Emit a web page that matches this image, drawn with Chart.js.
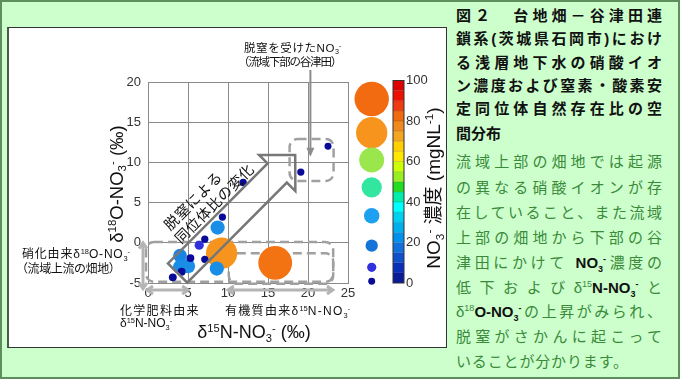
<!DOCTYPE html>
<html>
<head>
<meta charset="utf-8">
<script src="https://cdn.jsdelivr.net/npm/chart.js@4.4.1/dist/chart.umd.min.js"></script>
<style>
  html, body { margin: 0; padding: 0; }
  #frame { position: absolute; left: 0; top: 0; width: 680px; height: 379px; box-sizing: border-box;
    background: #ccffcc; border: 2px solid #5e8e5e; }
  #box { position: absolute; left: 7px; top: 27px; width: 440px; height: 321px; box-sizing: border-box;
    background: #fff; border: 1px solid #333; border-left: 2px solid #4b5b4b; }
  #plot { position: absolute; left: 8px; top: 28px; }
  .ln { position: absolute; left: 456px; width: 206px; height: 22px; line-height: 22px; font-size: 15px;
    font-family: "Liberation Sans", "Noto Sans CJK JP", sans-serif; text-align: justify; text-align-last: justify; }
  .tt { font-weight: bold; color: #111; }
  .bd { color: #3a8a3a; }
  .bd b { color: #111; }
  sup, sub { font-size: 9px; line-height: 0; }
</style>
</head>
<body>
<div id="frame"></div>
<div id="box"></div>
<canvas id="plot" width="438" height="319"></canvas>

<div class="ln tt" style="top:5px">図２　台地畑－谷津田連</div>
<div class="ln tt" style="top:28px">鎖系(茨城県石岡市)におけ</div>
<div class="ln tt" style="top:52px">る浅層地下水の硝酸イオ</div>
<div class="ln tt" style="top:75px">ン濃度および窒素・酸素安</div>
<div class="ln tt" style="top:98px">定同位体自然存在比の空</div>
<div class="ln tt" style="top:123px;text-align-last:left">間分布</div>
<div class="ln bd" style="top:151px">流域上部の畑地では起源</div>
<div class="ln bd" style="top:177px">の異なる硝酸イオンが存</div>
<div class="ln bd" style="top:202px">在していること、また流域</div>
<div class="ln bd" style="top:227px">上部の畑地から下部の谷</div>
<div class="ln bd" style="top:252px">津田にかけて <b>NO<sub>3</sub><sup>-</sup></b>濃度の</div>
<div class="ln bd" style="top:277px">低下およびδ<sup>15</sup><b>N-NO<sub>3</sub><sup>-</sup></b>と</div>
<div class="ln bd" style="top:301px">δ<sup>18</sup><b>O-NO<sub>3</sub><sup>-</sup></b>の上昇がみられ、</div>
<div class="ln bd" style="top:326px">脱窒がさかんに起こって</div>
<div class="ln bd" style="top:351px;width:172px">いることが分かります。</div>

<script>
// values
const nitrogen15 = [15.9, 9.2, 8.7, 8.6, 4.0, 4.0, 5.0, 6.4, 5.3, 4.2, 3.1, 7.1, 7.1, 9.3, 11.9, 19.1, 22.5];
const oxygen18 = [-2.5, -1.3, 1.9, -3.2, -1.6, -3.0, -2.9, -0.3, -1.9, -3.6, -4.3, 0.45, -2.05, 3.2, 7.5, 8.8, 12.0];
const nitrate = [88, 80, 26, 26, 24, 26, 26, 10, 6, 6, 6, 4, 4, 4, 4, 4, 3];

const legendNitrate = [90, 80, 60, 45, 30, 20, 10, 3];
const colorbarTicks = [0, 20, 40, 60, 80, 100];
// colour bar bands, 0-5 first
const colorbarBands = ["#0a1a99", "#0a30bb", "#1050cc", "#1070dd", "#0090ee", "#00b0ee", "#00d0f0", "#00ffff",
  "#00eeaa", "#22dd22", "#99ee22", "#ccff00", "#ffe800", "#ffd000", "#f5a620", "#f08a20", "#f06a10", "#f03a10",
  "#ee1100", "#dd0000"];

const colorStops = [[0, "#0a0a99"], [6, "#0a0a99"], [10, "#3030dd"], [20, "#1473d9"], [30, "#1ea0f0"],
  [45, "#33e6a0"], [60, "#99e64d"], [80, "#f7941d"], [90, "#f26b10"], [100, "#e03000"]];

function hexToRgb(h) {
  return [1, 3, 5].map((i) => parseInt(h.slice(i, i + 2), 16));
}
function nitrateColor(c) {
  for (let i = 1; i < colorStops.length; i++) {
    const [c0, h0] = colorStops[i - 1];
    const [c1, h1] = colorStops[i];
    if (c <= c1) {
      const t = (c - c0) / (c1 - c0);
      const a = hexToRgb(h0), b = hexToRgb(h1);
      return "rgb(" + a.map((v, k) => Math.round(v + (b[k] - v) * t)).join(",") + ")";
    }
  }
  return colorStops[colorStops.length - 1][1];
}
function bubbleRadius(c) {
  return 3 + 0.158 * c;
}

const FONT = '"Liberation Sans", "Noto Sans CJK JP", sans-serif';

// text with sup / sub pieces, y is the middle of the line
function drawRich(ctx, parts, x, y, size, align, spacing) {
  const segs = parts.map(([t, k]) => {
    const s = k ? size * 0.62 : size;
    ctx.font = s + "px " + FONT;
    ctx.letterSpacing = (k ? 0 : spacing || 0) + "px";
    return { t, k, s, w: ctx.measureText(t).width };
  });
  const total = segs.reduce((a, g) => a + g.w, 0);
  let cx = align === "center" ? x - total / 2 : x;
  ctx.textAlign = "left";
  ctx.textBaseline = "alphabetic";
  segs.forEach((g) => {
    ctx.font = g.s + "px " + FONT;
    ctx.letterSpacing = (g.k ? 0 : spacing || 0) + "px";
    const dy = g.k === "sup" ? -size * 0.38 : g.k === "sub" ? size * 0.2 : 0;
    ctx.fillText(g.t, cx, y + size * 0.36 + dy);
    cx += g.w;
  });
  ctx.letterSpacing = "0px";
}

function roundBox(ctx, x0, y0, x1, y1, r) {
  ctx.beginPath();
  ctx.roundRect(Math.min(x0, x1), Math.min(y0, y1), Math.abs(x1 - x0), Math.abs(y1 - y0), r);
  ctx.stroke();
}

function chevron(ctx, x, y, ang, h) {
  ctx.beginPath();
  ctx.moveTo(x - h * Math.cos(ang - 0.6), y - h * Math.sin(ang - 0.6));
  ctx.lineTo(x, y);
  ctx.lineTo(x - h * Math.cos(ang + 0.6), y - h * Math.sin(ang + 0.6));
  ctx.stroke();
}

function doubleArrow(ctx, x0, y0, x1, y1) {
  ctx.beginPath();
  ctx.moveTo(x0, y0);
  ctx.lineTo(x1, y1);
  ctx.stroke();
  const a = Math.atan2(y1 - y0, x1 - x0);
  chevron(ctx, x1, y1, a, 7);
  chevron(ctx, x0, y0, a + Math.PI, 7);
}

const decorations = {
  id: "decorations",
  beforeDatasetsDraw(chart) {
    const ctx = chart.ctx;
    const sx = (v) => chart.scales.x.getPixelForValue(v);
    const sy = (v) => chart.scales.y.getPixelForValue(v);
    ctx.save();
    ctx.strokeStyle = "#a0a0a0";
    ctx.lineWidth = 2.5;
    ctx.setLineDash([9, 5]);
    roundBox(ctx, sx(-0.25), sy(-4.85), sx(23.15), sy(0.1), 8);
    roundBox(ctx, sx(10.1), sy(-5.1), sx(23.15), sy(-1.3), 8);
    roundBox(ctx, sx(17.7), sy(7.7), sx(23.2), sy(12.9), 8);
    ctx.restore();
  },
  afterDatasetsDraw(chart) {
    const ctx = chart.ctx;
    const area = chart.chartArea;
    const sx = (v) => chart.scales.x.getPixelForValue(v);
    const sy = (v) => chart.scales.y.getPixelForValue(v);
    ctx.save();

    // range arrows along the axes
    ctx.strokeStyle = "#b4b4b4";
    ctx.lineWidth = 3;
    doubleArrow(ctx, sx(-0.1), area.bottom + 7, sx(5), area.bottom + 7);
    doubleArrow(ctx, sx(10), area.bottom + 7, sx(23.1), area.bottom + 7);
    doubleArrow(ctx, area.left - 5, sy(0), area.left - 5, sy(-5.7));

    // arrow from the label to the valley paddy points
    ctx.strokeStyle = "#8c8c8c";
    ctx.fillStyle = "#8c8c8c";
    ctx.lineWidth = 2;
    const ax = sx(20.3), ay = sy(10.7);
    ctx.beginPath();
    ctx.moveTo(ax, 42);
    ctx.lineTo(ax, ay - 6);
    ctx.stroke();
    ctx.beginPath();
    ctx.moveTo(ax, ay);
    ctx.lineTo(ax - 4, ay - 9);
    ctx.lineTo(ax + 4, ay - 9);
    ctx.closePath();
    ctx.fill();

    // outlined block arrow (denitrification)
    const tail = { x: sx(3.7), y: sy(-3.76) };
    const tip = { x: sx(18.4), y: sy(10.93) };
    let ux = tip.x - tail.x, uy = tip.y - tail.y;
    const len = Math.hypot(ux, uy);
    ux /= len; uy /= len;
    const nx = -uy, ny = ux;
    const hb = { x: tip.x - ux * 25.5, y: tip.y - uy * 25.5 };
    const pts = [
      [tail.x + nx * 13.6, tail.y + ny * 13.6],
      [hb.x + nx * 13.6, hb.y + ny * 13.6],
      [hb.x + nx * 25.6, hb.y + ny * 25.6],
      [tip.x, tip.y],
      [hb.x - nx * 25.6, hb.y - ny * 25.6],
      [hb.x - nx * 13.6, hb.y - ny * 13.6],
      [tail.x - nx * 13.6, tail.y - ny * 13.6],
    ];
    ctx.strokeStyle = "#777";
    ctx.lineWidth = 2.5;
    ctx.setLineDash([]);
    ctx.beginPath();
    pts.forEach(([x, y], i) => (i ? ctx.lineTo(x, y) : ctx.moveTo(x, y)));
    ctx.closePath();
    ctx.stroke();

    ctx.save();
    ctx.translate(198, 173);
    ctx.rotate(Math.atan2(uy, ux));
    ctx.fillStyle = "#111";
    ctx.font = "14.5px " + FONT;
    ctx.letterSpacing = "0.5px";
    ctx.textAlign = "center";
    ctx.textBaseline = "middle";
    ctx.fillText("脱窒による", -9, -8);
    ctx.fillText("同位体比の変化", 4, 9);
    ctx.letterSpacing = "0px";
    ctx.restore();

    // annotation texts
    ctx.fillStyle = "#111";
    drawRich(ctx, [["脱窒を受けたNO", ""], ["3", "sub"], ["-", "sup"]], 236, 20, 11.5, "left", 0.6);
    drawRich(ctx, [["（流域下部の谷津田）", ""]], 230, 34, 11.5, "left", -1.2);
    drawRich(ctx, [["硝化由来δ", ""], ["18", "sup"], ["O-NO", ""], ["3", "sub"], ["-", "sup"]], 14, 226, 12, "left", 0.8);
    drawRich(ctx, [["（流域上流の畑地）", ""]], 8, 241, 12, "left", -0.4);
    drawRich(ctx, [["化学肥料由来", ""]], 112, 283, 12, "left", 1.3);
    drawRich(ctx, [["δ", ""], ["15", "sup"], ["N-NO", ""], ["3", "sub"], ["-", "sup"]], 112, 295, 12, "left", 0);
    drawRich(ctx, [["有機質由来δ", ""], ["15", "sup"], ["N-NO", ""], ["3", "sub"], ["-", "sup"]], 217, 283, 12, "left", 1.3);

    // axis titles
    drawRich(ctx, [["δ", ""], ["15", "sup"], ["N-NO", ""], ["3", "sub"], ["-", "sup"], [" (‰)", ""]], 246, 304, 18, "center", 0);
    ctx.save();
    ctx.translate(108, 156);
    ctx.rotate(-Math.PI / 2);
    drawRich(ctx, [["δ", ""], ["18", "sup"], ["O-NO", ""], ["3", "sub"], ["-", "sup"], [" (‰)", ""]], 0, 0, 18.5, "center", 0);
    ctx.restore();

    // size legend
    const legendY = [71, 104.7, 132, 159.3, 187.7, 217.7, 239.3, 253.3];
    legendNitrate.forEach((c, i) => {
      ctx.beginPath();
      ctx.fillStyle = nitrateColor(c);
      ctx.arc(363.7, legendY[i], bubbleRadius(c), 0, Math.PI * 2);
      ctx.fill();
    });

    // colour bar
    const cbTop = 52.5, cbBottom = 255, cbLeft = 385, cbW = 11;
    const bandH = (cbBottom - cbTop) / colorbarBands.length;
    colorbarBands.forEach((col, i) => {
      ctx.fillStyle = col;
      ctx.fillRect(cbLeft, cbBottom - (i + 1) * bandH, cbW, bandH);
    });
    ctx.strokeStyle = "rgba(0,0,0,0.25)";
    ctx.lineWidth = 0.6;
    for (let i = 1; i < colorbarBands.length; i++) {
      ctx.beginPath();
      ctx.moveTo(cbLeft, cbBottom - i * bandH);
      ctx.lineTo(cbLeft + cbW, cbBottom - i * bandH);
      ctx.stroke();
    }
    ctx.strokeStyle = "#333";
    ctx.lineWidth = 1;
    ctx.strokeRect(cbLeft, cbTop, cbW, cbBottom - cbTop);
    ctx.fillStyle = "#333";
    ctx.font = "13px " + FONT;
    ctx.textAlign = "left";
    ctx.textBaseline = "middle";
    colorbarTicks.forEach((v) => {
      ctx.fillText(String(v), cbLeft + cbW + 2, cbBottom - (v / 100) * (cbBottom - cbTop));
    });
    ctx.save();
    ctx.translate(425, 160);
    ctx.rotate(-Math.PI / 2);
    ctx.fillStyle = "#111";
    drawRich(ctx, [["NO", ""], ["3", "sub"], ["-", "sup"], [" 濃度 (mgNL", ""], ["-1", "sup"], [")", ""]], 0, 0, 19, "center", 0);
    ctx.restore();

    ctx.restore();
  },
};

const points = nitrogen15.map((x, i) => ({ x: x, y: oxygen18[i], r: bubbleRadius(nitrate[i]) }));

new Chart(document.getElementById("plot"), {
  type: "bubble",
  data: {
    datasets: [
      {
        data: points,
        backgroundColor: nitrate.map(nitrateColor),
        borderWidth: 0,
        hoverBorderWidth: 0,
      },
    ],
  },
  options: {
    responsive: false,
    animation: false,
    clip: false,
    layout: { padding: { top: 54, right: 98, bottom: 0, left: 0 } },
    plugins: { legend: { display: false }, tooltip: { enabled: false } },
    scales: {
      x: {
        type: "linear",
        min: 0,
        max: 25,
        ticks: { stepSize: 5, color: "#333", padding: 3, font: { size: 13, family: "Liberation Sans" } },
        grid: { color: "#8a8a8a", drawTicks: false },
        border: { color: "#8a8a8a" },
        afterFit: (scale) => { scale.height = 64; },
      },
      y: {
        type: "linear",
        min: -5,
        max: 20,
        ticks: { stepSize: 5, color: "#333", padding: 7, font: { size: 13, family: "Liberation Sans" } },
        grid: { color: "#8a8a8a", drawTicks: false },
        border: { color: "#8a8a8a" },
        afterFit: (scale) => { scale.width = 140; },
      },
    },
  },
  plugins: [decorations],
});
</script>
</body>
</html>
